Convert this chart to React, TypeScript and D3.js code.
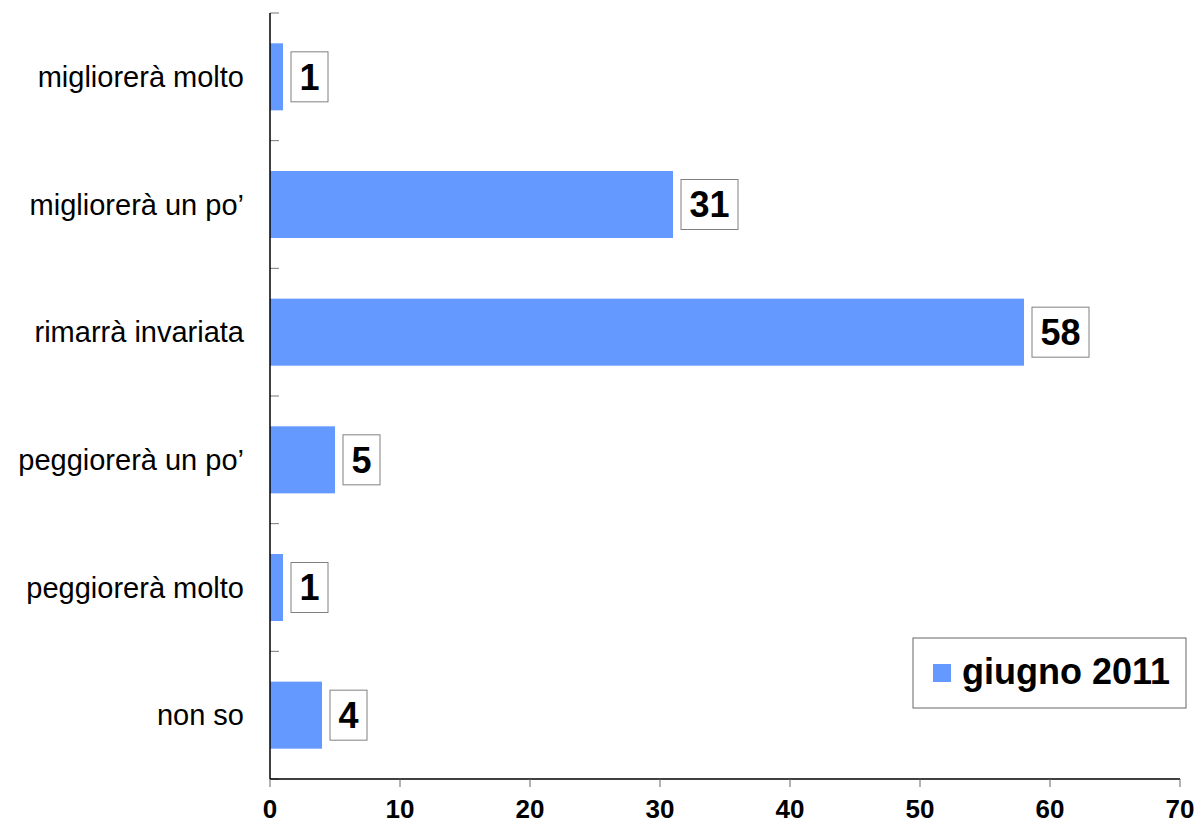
import { useEffect, useRef } from "react";
import * as d3 from "d3";

// Chart data
const categories = [
  "migliorerà molto",
  "migliorerà un po’",
  "rimarrà invariata",
  "peggiorerà un po’",
  "peggiorerà molto",
  "non so",
];
const values = [1, 31, 58, 5, 1, 4];
const xTicks = [0, 10, 20, 30, 40, 50, 60, 70];
const seriesName = "giugno 2011";

const FONT = "'Liberation Sans', Arial, Helvetica, sans-serif";
const BAR_COLOR = "#6499ff";

const App = () => {
  const ref = useRef<SVGSVGElement | null>(null);

  useEffect(() => {
    const svg = d3.select(ref.current);
    svg.selectAll("*").remove();

    const width = 1200;
    const height = 824;
    const left = 270;
    const right = 1180;
    const top = 13;
    const bottom = 779;

    const x = d3.scaleLinear().domain([0, 70]).range([left, right]);
    const y = d3
      .scaleBand<string>()
      .domain(categories)
      .range([top, bottom])
      .paddingInner(0.475)
      .paddingOuter(0.2375);

    svg.attr("width", width).attr("height", height);

    // bars
    svg
      .selectAll(".bar")
      .data(values)
      .enter()
      .append("rect")
      .attr("class", "bar")
      .attr("x", x(0))
      .attr("y", (_, i) => y(categories[i])!)
      .attr("width", (d) => x(d) - x(0))
      .attr("height", y.bandwidth())
      .attr("fill", BAR_COLOR);

    // y axis line + tick marks between categories
    const gap = (y.step() - y.bandwidth()) / 2;
    const yTickPos = categories.map((c) => y(c)! - gap).concat([bottom]);

    svg
      .selectAll(".ytick")
      .data(yTickPos)
      .enter()
      .append("line")
      .attr("x1", left)
      .attr("x2", left + 9)
      .attr("y1", (d) => d)
      .attr("y2", (d) => d)
      .attr("stroke", "#777")
      .attr("stroke-width", 1);

    svg
      .append("line")
      .attr("x1", left)
      .attr("x2", left)
      .attr("y1", top)
      .attr("y2", bottom)
      .attr("stroke", "#000")
      .attr("stroke-width", 1.5);

    // x axis
    svg
      .append("line")
      .attr("x1", left)
      .attr("x2", right)
      .attr("y1", bottom)
      .attr("y2", bottom)
      .attr("stroke", "#000")
      .attr("stroke-width", 1.5);

    svg
      .selectAll(".xtick")
      .data(xTicks)
      .enter()
      .append("line")
      .attr("x1", (d) => x(d))
      .attr("x2", (d) => x(d))
      .attr("y1", bottom)
      .attr("y2", bottom + 8)
      .attr("stroke", "#666")
      .attr("stroke-width", 1);

    svg
      .selectAll(".xlabel")
      .data(xTicks)
      .enter()
      .append("text")
      .attr("x", (d) => x(d))
      .attr("y", 818)
      .attr("text-anchor", "middle")
      .style("font-family", FONT)
      .style("font-weight", "bold")
      .style("font-size", "26px")
      .text((d) => d);

    // category labels
    svg
      .selectAll(".ylabel")
      .data(categories)
      .enter()
      .append("text")
      .attr("x", left - 26)
      .attr("y", (d) => y(d)! + y.bandwidth() / 2)
      .attr("dy", "0.35em")
      .attr("text-anchor", "end")
      .style("font-family", FONT)
      .style("font-size", "29px")
      .text((d) => d);

    // value labels in boxes
    const labels = svg
      .selectAll(".vlabel")
      .data(values)
      .enter()
      .append("g")
      .attr("transform", (d, i) => `translate(${x(d) + 8},${y(categories[i])! + y.bandwidth() / 2})`);

    labels
      .append("rect")
      .attr("x", 0)
      .attr("y", -25)
      .attr("width", (d) => String(d).length * 20 + 17)
      .attr("height", 50)
      .attr("fill", "#fff")
      .attr("stroke", "#808080")
      .attr("stroke-width", 1);

    labels
      .append("text")
      .attr("x", (d) => (String(d).length * 20 + 17) / 2)
      .attr("y", 0)
      .attr("dy", "0.36em")
      .attr("text-anchor", "middle")
      .style("font-family", FONT)
      .style("font-weight", "bold")
      .style("font-size", "36px")
      .text((d) => d);

    // legend
    const legend = svg.append("g").attr("transform", "translate(913,638)");
    legend
      .append("rect")
      .attr("width", 273)
      .attr("height", 70)
      .attr("fill", "#fff")
      .attr("stroke", "#666")
      .attr("stroke-width", 1);
    legend
      .append("rect")
      .attr("x", 20)
      .attr("y", 26)
      .attr("width", 18)
      .attr("height", 18)
      .attr("fill", BAR_COLOR);
    legend
      .append("text")
      .attr("x", 49)
      .attr("y", 46)
      .style("font-family", FONT)
      .style("font-weight", "bold")
      .style("font-size", "36px")
      .text(seriesName);
  }, []);

  return (
    <svg
      ref={ref}
      style={{ position: "absolute", left: 0, top: 0, background: "#fff" }}
    />
  );
};

export default App;
